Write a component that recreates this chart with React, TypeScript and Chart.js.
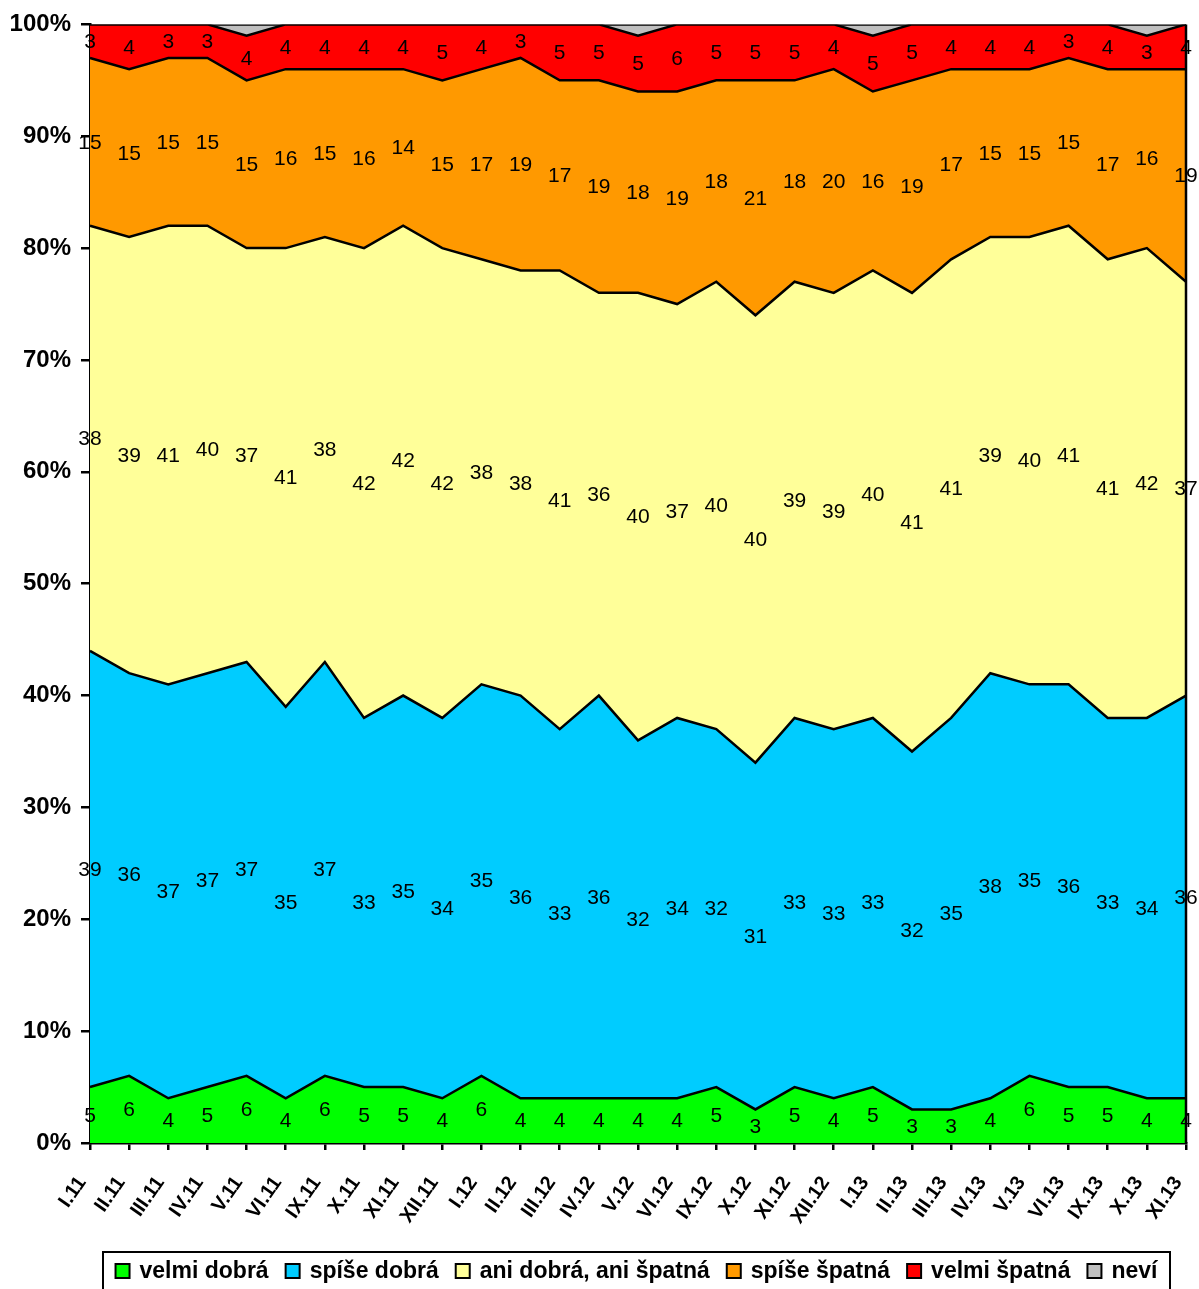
import React, { useEffect, useRef } from "react";
import { Chart, registerables } from "chart.js";

Chart.register(...registerables);

const categories = [
  "I.11", "II.11", "III.11", "IV.11", "V.11", "VI.11", "IX.11", "X.11", "XI.11", "XII.11",
  "I.12", "II.12", "III.12", "IV.12", "V.12", "VI.12", "IX.12", "X.12", "XI.12", "XII.12",
  "I.13", "II.13", "III.13", "IV.13", "V.13", "VI.13", "IX.13", "X.13", "XI.13",
];

const velmiDobra = [5, 6, 4, 5, 6, 4, 6, 5, 5, 4, 6, 4, 4, 4, 4, 4, 5, 3, 5, 4, 5, 3, 3, 4, 6, 5, 5, 4, 4];
const spiseDobra = [39, 36, 37, 37, 37, 35, 37, 33, 35, 34, 35, 36, 33, 36, 32, 34, 32, 31, 33, 33, 33, 32, 35, 38, 35, 36, 33, 34, 36];
const aniDobraAniSpatna = [38, 39, 41, 40, 37, 41, 38, 42, 42, 42, 38, 38, 41, 36, 40, 37, 40, 40, 39, 39, 40, 41, 41, 39, 40, 41, 41, 42, 37];
const spiseSpatna = [15, 15, 15, 15, 15, 16, 15, 16, 14, 15, 17, 19, 17, 19, 18, 19, 18, 21, 18, 20, 16, 19, 17, 15, 15, 15, 17, 16, 19];
const velmiSpatna = [3, 4, 3, 3, 4, 4, 4, 4, 4, 5, 4, 3, 5, 5, 5, 6, 5, 5, 5, 4, 5, 5, 4, 4, 4, 3, 4, 3, 4];
const nevi = [0, 0, 0, 0, 1, 0, 0, 0, 0, 0, 0, 0, 0, 0, 1, 0, 0, 0, 0, 0, 1, 0, 0, 0, 0, 0, 0, 1, 0];

const seriesNames = ["velmi dobrá", "spíše dobrá", "ani dobrá, ani špatná", "spíše špatná", "velmi špatná", "neví"];
const seriesColors = ["#00FF00", "#00CCFF", "#FFFF99", "#FF9900", "#FF0000", "#C0C0C0"];
const seriesData = [velmiDobra, spiseDobra, aniDobraAniSpatna, spiseSpatna, velmiSpatna, nevi];
const labelledSeries = 5;

const FONT = "'Liberation Sans', Arial, Helvetica, sans-serif";

const dataLabelsPlugin = {
  id: "bandLabels",
  afterDraw(chart: any) {
    const ctx = chart.ctx;
    const xs = chart.scales.x;
    const ys = chart.scales.y;
    ctx.save();
    ctx.font = `21px ${FONT}`;
    ctx.fillStyle = "#000";
    ctx.textAlign = "center";
    ctx.textBaseline = "middle";
    for (let j = 0; j < categories.length; j++) {
      let base = 0;
      for (let i = 0; i < labelledSeries; i++) {
        const v = seriesData[i][j];
        const mid = base + v / 2;
        base += v;
        if (!v) continue;
        ctx.fillText(String(v), xs.getPixelForValue(j), ys.getPixelForValue(mid) + 1);
      }
    }
    ctx.restore();
  },
};

const framePlugin = {
  id: "frame",
  afterDatasetsDraw(chart: any) {
    const { ctx, chartArea } = chart;
    ctx.save();
    ctx.strokeStyle = "#000";
    ctx.lineWidth = 2.5;
    ctx.beginPath();
    ctx.moveTo(chartArea.right, chartArea.top);
    ctx.lineTo(chartArea.right, chartArea.bottom);
    ctx.stroke();
    ctx.restore();
  },
};

const legendPlugin = {
  id: "boxLegend",
  afterDraw(chart: any) {
    const ctx = chart.ctx;
    ctx.save();
    ctx.font = `bold 23px ${FONT}`;
    const sq = 14;
    const gapText = 10;
    const gapItem = 17;
    const widths = seriesNames.map((n) => ctx.measureText(n).width);
    let total = 0;
    widths.forEach((w, i) => {
      total += sq + gapText + w + (i < widths.length - 1 ? gapItem : 0);
    });
    const boxLeft = 103;
    const boxRight = 1170;
    const boxTop = 1252;
    const cx = (boxLeft + boxRight) / 2;
    ctx.strokeStyle = "#000";
    ctx.lineWidth = 2;
    ctx.strokeRect(boxLeft, boxTop, boxRight - boxLeft, 60);
    let x = cx - total / 2;
    const cy = 1271;
    ctx.textBaseline = "middle";
    ctx.textAlign = "left";
    seriesNames.forEach((n, i) => {
      ctx.fillStyle = seriesColors[i];
      ctx.fillRect(x, cy - sq / 2, sq, sq);
      ctx.strokeStyle = "#000";
      ctx.lineWidth = 2;
      ctx.strokeRect(x, cy - sq / 2, sq, sq);
      x += sq + gapText;
      ctx.fillStyle = "#000";
      ctx.fillText(n, x, cy + 1);
      x += widths[i] + gapItem;
    });
    ctx.restore();
  },
};

export default function App() {
  const canvasRef = useRef<HTMLCanvasElement | null>(null);

  useEffect(() => {
    const canvas = canvasRef.current;
    if (!canvas) return;
    const datasets = seriesData.map((d, i) => ({
      label: seriesNames[i],
      data: d,
      backgroundColor: seriesColors[i],
      borderColor: "#000",
      borderWidth: 2.5,
      fill: i === 0 ? "origin" : "-1",
      pointRadius: 0,
      pointHoverRadius: 0,
      tension: 0,
    }));
    const chart = new Chart(canvas, {
      type: "line",
      data: { labels: categories, datasets },
      options: {
        responsive: false,
        animation: false,
        events: [],
        layout: { padding: { top: 23, left: 0, right: 13, bottom: 46 } },
        plugins: {
          legend: { display: false },
          tooltip: { enabled: false },
          filler: { propagate: false },
        },
        scales: {
          x: {
            type: "category",
            offset: false,
            z: 1,
            border: { color: "#000", width: 2.5 },
            grid: {
              drawOnChartArea: false,
              drawTicks: true,
              tickLength: 7,
              color: "#000",
              lineWidth: 2.5,
            },
            ticks: {
              autoSkip: false,
              maxRotation: 55,
              minRotation: 55,
              padding: 22,
              labelOffset: -8,
              color: "#000",
              font: { family: FONT, size: 20, weight: "bold" },
            },
            afterFit(scale: any) {
              scale.height = 100;
              scale.paddingLeft = 0;
              scale.paddingRight = 0;
            },
          },
          y: {
            stacked: true,
            min: 0,
            max: 100,
            z: 1,
            border: { color: "#000", width: 2.5 },
            grid: {
              drawOnChartArea: false,
              drawTicks: true,
              tickLength: 9,
              color: "#000",
              lineWidth: 2.5,
            },
            ticks: {
              stepSize: 10,
              padding: 10,
              color: "#000",
              font: { family: FONT, size: 24, weight: "bold" },
              callback: (v: any) => `${v}%`,
            },
            afterFit(scale: any) {
              scale.width = 90;
            },
          },
        },
      },
      plugins: [framePlugin, dataLabelsPlugin, legendPlugin],
    } as any);
    return () => chart.destroy();
  }, []);

  return (
    <div style={{ position: "absolute", left: 0, top: 0, width: 1199, height: 1289, background: "#fff" }}>
      <canvas ref={canvasRef} width={1199} height={1289} style={{ display: "block" }} />
    </div>
  );
}
